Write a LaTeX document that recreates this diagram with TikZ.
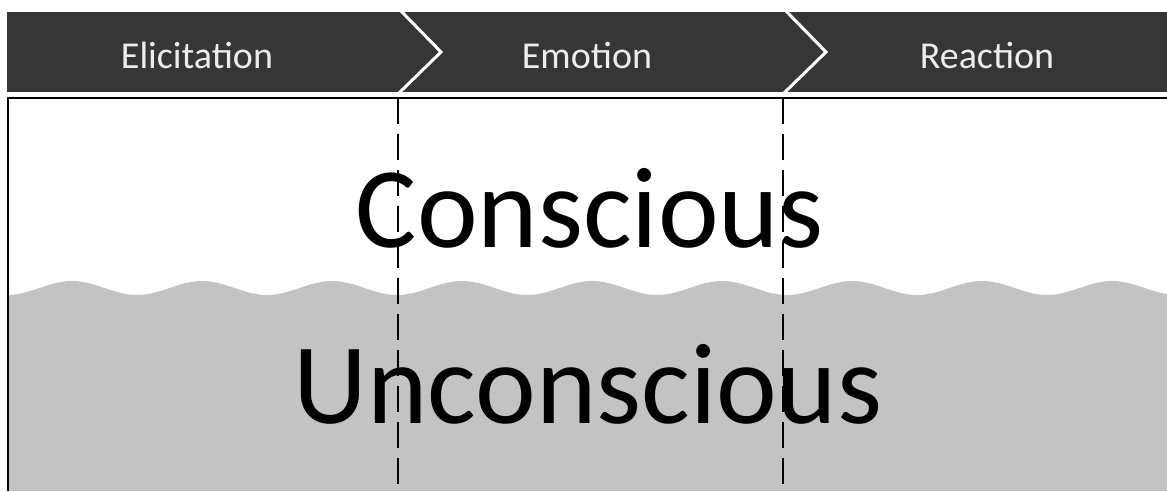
\documentclass[tikz,border=0pt]{standalone}
\usepackage{fontspec}
\newfontfamily\calibri{Carlito}
\definecolor{bannergray}{HTML}{363636}
\definecolor{labelgray}{HTML}{EDEDED}
\definecolor{wavegray}{HTML}{C3C3C3}

\begin{document}
\begin{tikzpicture}[
  x=1pt, y=-1pt,
  stagelabel/.style={
    anchor=base, inner sep=0pt,
    text=labelgray,
    font=\calibri\fontsize{38}{38}\selectfont
  },
  layerlabel/.style={
    anchor=base, inner sep=0pt,
    font=\calibri\fontsize{115}{115}\selectfont
  },
  chevron/.style={draw=white, line width=3pt, line join=miter},
  divider/.style={draw=black, line width=1.2pt, dash pattern=on 26pt off 10pt},
  frameline/.style={draw=black, line width=2pt}
]
\useasboundingbox (0,0) rectangle (1167,491);

% --- Pasek etapów ---
\fill[bannergray] (7,12) rectangle (1167,92);
\coordinate (cutA) at (398,98);
\coordinate (cutB) at (783,98);
\draw[chevron] (400,10) -- (441,52) -- (398,94);
\draw[chevron] (785,10) -- (826,52) -- (783,94);

\node[stagelabel] (elicit) at (197,68) {Elicitation};
\node[stagelabel] (emotion) at (587,68) {Emotion};
\node[stagelabel] (react) at (987,68) {Reaction};

% --- Fala (granica świadomości) ---
% okres fali ok. 130 px, 360/130 = 2.769
\fill[wavegray] (8,491)
  -- plot[domain=8:1167, samples=240] (\x, {288-7*cos((\x-72)*2.769)})
  -- (1167,491) -- cycle;

% --- Linie podziału ---
\coordinate (frameTL) at (8,98);
\coordinate (frameTR) at (1167,98);
\coordinate (frameBL) at (8,491);
\draw[divider] (cutA) -- (cutA |- frameBL);
\draw[divider] (cutB) -- (cutB |- frameBL);
\draw[frameline] (frameTR) -- (frameTL) -- (frameBL);

% --- Podpisy warstw ---
\node[layerlabel] (conscious) at (590,247) {Conscious};
\node[layerlabel] (unconscious) at (588,423) {Unconscious};

\end{tikzpicture}
\end{document}
